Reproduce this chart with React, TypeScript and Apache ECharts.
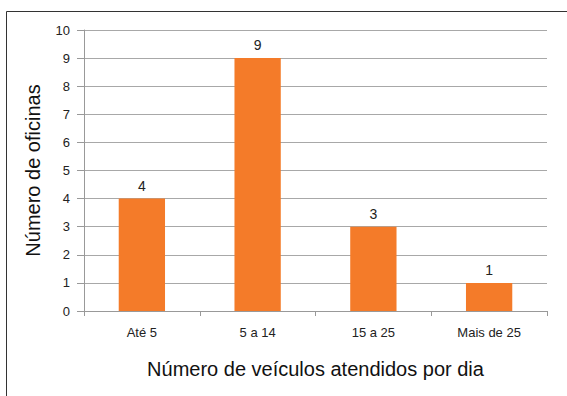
import React, { useEffect, useRef } from "react";
import * as echarts from "echarts";

const categories = ["Até 5", "5 a 14", "15 a 25", "Mais de 25"];
const values = [4, 9, 3, 1];
const yTitle = "Número de oficinas";
const xTitle = "Número de veículos atendidos por dia";

export default function App() {
  const ref = useRef<HTMLDivElement>(null);
  useEffect(() => {
    if (!ref.current) return;
    const chart = echarts.init(ref.current, undefined, { renderer: "svg" });
    const font = "'Liberation Sans', Arial, sans-serif";
    chart.setOption({
      animation: false,
      backgroundColor: "#ffffff",
      textStyle: { fontFamily: font },
      grid: { left: 84, right: 20, top: 30, bottom: 85, containLabel: false },
      graphic: [
        {
          type: "rect",
          shape: { x: 6.5, y: 11.5, width: 600, height: 500 },
          style: { fill: "none", stroke: "#333333", lineWidth: 1 },
          silent: true,
        },
      ],
      xAxis: {
        type: "category",
        data: categories,
        name: xTitle,
        nameLocation: "middle",
        nameGap: 48,
        nameTextStyle: { fontSize: 20, color: "#111", fontFamily: font },
        axisLine: { show: true, lineStyle: { color: "#999", width: 1 } },
        axisTick: { show: true, alignWithLabel: false, length: 5, lineStyle: { color: "#999" } },
        axisLabel: { fontSize: 13, color: "#222", margin: 15, fontFamily: font },
        splitLine: { show: false },
      },
      yAxis: {
        type: "value",
        min: 0,
        max: 10,
        interval: 1,
        name: yTitle,
        nameLocation: "middle",
        nameGap: 41,
        nameRotate: 90,
        nameTextStyle: { fontSize: 20, color: "#111", fontFamily: font },
        axisLine: { show: true, lineStyle: { color: "#999", width: 1 } },
        axisTick: { show: true, length: 7, lineStyle: { color: "#999" } },
        axisLabel: { fontSize: 13, color: "#222", margin: 14, fontFamily: font },
        splitLine: { show: true, lineStyle: { color: "#a8a8a8", width: 1 } },
      },
      series: [
        {
          type: "bar",
          data: values,
          barWidth: "40%",
          itemStyle: { color: "#F47B29" },
          label: {
            show: true,
            position: "top",
            distance: 6,
            fontSize: 14,
            color: "#222",
            fontFamily: font,
          },
        },
      ],
    });
    return () => chart.dispose();
  }, []);
  return (
    <div
      ref={ref}
      style={{ position: "fixed", left: 0, top: 0, width: 567, height: 396, background: "#fff" }}
    />
  );
}
